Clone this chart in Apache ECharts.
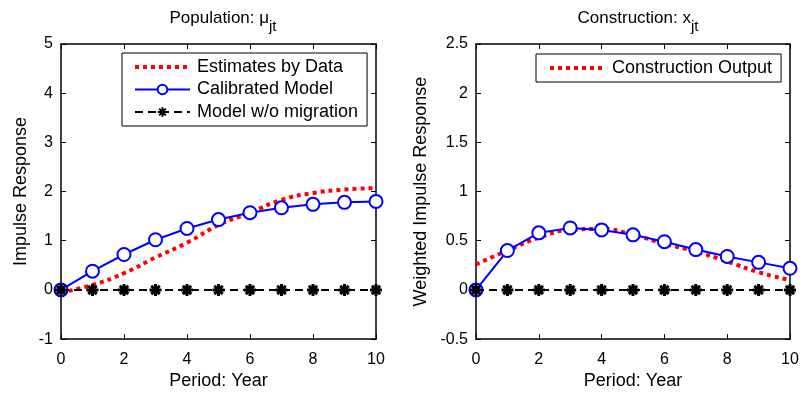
<!DOCTYPE html>
<html><head><meta charset="utf-8">
<script src="https://cdn.jsdelivr.net/npm/echarts@6/dist/echarts.min.js"></script>
<style>html,body{margin:0;padding:0;background:#fff}#c{width:803px;height:395px}</style>
</head><body><div id="c"></div>
<script>
const periods = [0,1,2,3,4,5,6,7,8,9,10];
const popData = [-0.05,0.1,0.34,0.66,0.96,1.32,1.57,1.83,1.97,2.04,2.07];
const popModel = [0,0.38,0.72,1.02,1.25,1.43,1.57,1.67,1.74,1.78,1.80];
const popNoMig = [0,0,0,0,0,0,0,0,0,0,0];
const conData = [0.26,0.40,0.53,0.61,0.62,0.56,0.47,0.39,0.29,0.18,0.10];
const conModel = [0,0.40,0.58,0.63,0.61,0.56,0.49,0.41,0.34,0.28,0.22];
const conNoMig = [0,0,0,0,0,0,0,0,0,0,0];

const pairs = a => periods.map((p,i)=>[p,a[i]]);
const font = 'Liberation Sans, Arial, sans-serif';
const star = 'path://M0,-10L0,10M-10,0L10,0M-7,-7L7,7M-7,7L7,-7';

const grids = [
  {left:61, top:44, width:315, height:299},
  {left:476, top:44, width:314, height:299}
];
function xAx(gi, pos, show){
  return {type:'value', gridIndex:gi, position:pos, min:0, max:10, interval:2,
    name: show ? 'Period: Year' : '', nameLocation:'middle', nameGap:29,
    nameTextStyle:{fontFamily:font, fontSize:18, color:'#000'},
    axisLine:{show:true, onZero:false, lineStyle:{color:'#000', width:1.5}},
    axisTick:{show:true, inside:true, length:5, lineStyle:{color:'#000'}},
    axisLabel:{show:show, fontFamily:font, fontSize:16, color:'#000', margin:12},
    splitLine:{show:false}};
}
function yAx(gi, pos, show, min, max, iv, name, gap){
  return {type:'value', gridIndex:gi, position:pos, min:min, max:max, interval:iv,
    name: show ? name : '', nameLocation:'middle', nameGap:gap,
    nameTextStyle:{fontFamily:font, fontSize:18, color:'#000'},
    axisLine:{show:true, onZero:false, lineStyle:{color:'#000', width:1.5}},
    axisTick:{show:true, inside:true, length:5, lineStyle:{color:'#000'}},
    axisLabel:{show:show, fontFamily:font, fontSize:16, color:'#000', margin:8},
    splitLine:{show:false}};
}
function redS(name, d, xi, yi){
  return {name:name, type:'line', xAxisIndex:xi, yAxisIndex:yi, data:pairs(d), smooth:true,
    showSymbol:false, symbol:'none', lineStyle:{color:'#ff0000', width:4, type:[4,4]}, itemStyle:{color:'#ff0000'}, z:2};
}
function blueS(name, d, xi, yi){
  return {name:name, type:'line', xAxisIndex:xi, yAxisIndex:yi, data:pairs(d),
    symbol:'circle', symbolSize:13, lineStyle:{color:'#0000ff', width:2},
    itemStyle:{color:'#fff', borderColor:'#0000ff', borderWidth:2}, z:3};
}
function blackS(name, d, xi, yi){
  return {name:name, type:'line', xAxisIndex:xi, yAxisIndex:yi, data:pairs(d),
    symbol:star, symbolSize:12, lineStyle:{color:'#000', width:2, type:[8,5]},
    itemStyle:{color:'#000', borderColor:'#000', borderWidth:3}, z:4};
}
const titleRich = {a:{fontFamily:font, fontSize:17, fontWeight:'normal', color:'#000'},
                   s:{fontFamily:font, fontSize:15, fontWeight:'normal', color:'#000', padding:[17,0,0,0]}};
const legText = {fontFamily:font, fontSize:18, color:'#000', padding:[0,0,0,2]};
const redLeg = {itemStyle:{opacity:0}, lineStyle:{width:4, type:[4,4], color:'#ff0000'}};
const chart = echarts.init(document.getElementById('c'), null, {renderer:'canvas'});
chart.setOption({
  animation:false,
  title:[
    {text:'{a|Population: μ}{s|jt}', left:218, top:-3, textAlign:'center', textStyle:{fontWeight:'normal', rich:titleRich}},
    {text:'{a|Construction: x}{s|jt}', left:633, top:-3, textAlign:'center', textStyle:{fontWeight:'normal', rich:titleRich}}
  ],
  legend:[
    {data:[Object.assign({name:'Estimates by Data'}, redLeg),'Calibrated Model','Model w/o migration'], left:122, top:53, orient:'vertical',
     itemWidth:55, itemHeight:12, itemGap:4.5, padding:[5,9,5,11], borderColor:'#000', borderWidth:1, backgroundColor:'#fff',
     textStyle:legText},
    {data:[Object.assign({name:'Construction Output'}, redLeg)], left:536, top:54, orient:'vertical',
     itemWidth:55, itemHeight:12, padding:[5,9,5,12], borderColor:'#000', borderWidth:1, backgroundColor:'#fff',
     textStyle:legText}
  ],
  grid:grids,
  xAxis:[xAx(0,'bottom',true), xAx(0,'top',false), xAx(1,'bottom',true), xAx(1,'top',false)],
  yAxis:[yAx(0,'left',true,-1,5,1,'Impulse Response',31), yAx(0,'right',false,-1,5,1,'',0),
         yAx(1,'left',true,-0.5,2.5,0.5,'Weighted Impulse Response',46), yAx(1,'right',false,-0.5,2.5,0.5,'',0)],
  series:[
    redS('Estimates by Data', popData, 0, 0),
    blueS('Calibrated Model', popModel, 0, 0),
    blackS('Model w/o migration', popNoMig, 0, 0),
    redS('Construction Output', conData, 2, 2),
    blueS('Calibrated Model', conModel, 2, 2),
    blackS('Model w/o migration', conNoMig, 2, 2)
  ]
});
</script></body></html>
